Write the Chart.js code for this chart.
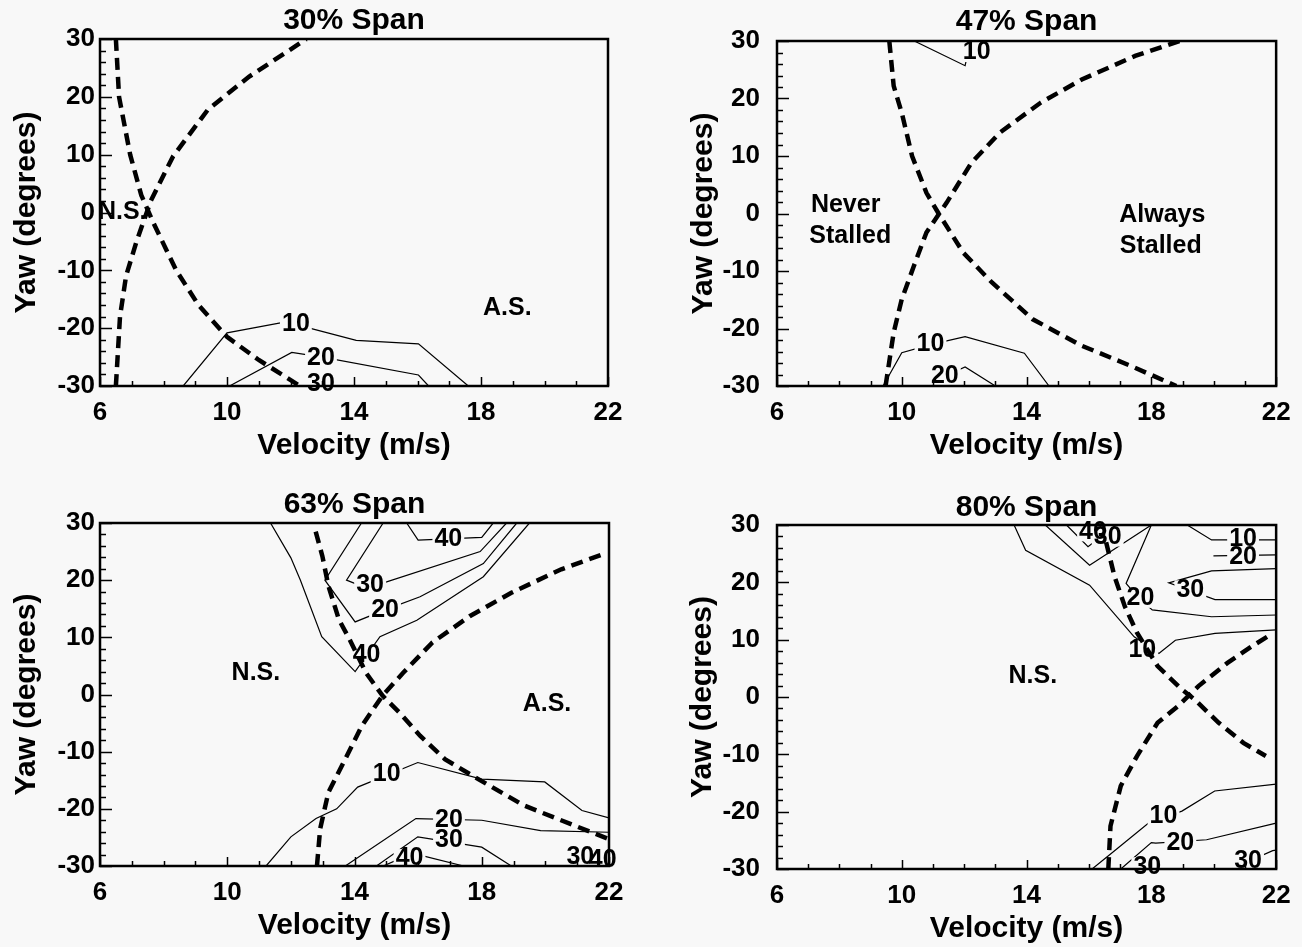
<!DOCTYPE html>
<html><head><meta charset="utf-8">
<script src="https://cdn.jsdelivr.net/npm/chart.js@4.4.1/dist/chart.umd.min.js"></script>
<style>
html,body{margin:0;padding:0;background:#f8f8f8;width:1302px;height:947px;overflow:hidden;}
canvas{position:absolute;}
</style></head><body>
<canvas id="c1" width="651" height="474" style="left:0px;top:0px"></canvas>
<canvas id="c2" width="651" height="474" style="left:651px;top:0px"></canvas>
<canvas id="c3" width="651" height="473" style="left:0px;top:474px"></canvas>
<canvas id="c4" width="651" height="473" style="left:651px;top:474px"></canvas>
<script>
// ---------- axes ----------
const velocityTicks = [6, 10, 14, 18, 22];
const yawTicks = [-30, -20, -10, 0, 10, 20, 30];
const panelTitles = ['30% Span', '47% Span', '63% Span', '80% Span'];

// ---------- 30% span ----------  [velocity, yaw]
const s30_stallDown = [[6.5,30],[6.6,20],[6.95,10],[7.3,3],[7.7,-2],[8.4,-10],[9.1,-16],[10,-21.5],[11,-25.5],[12.3,-30]];
const s30_stallUp = [[6.5,-30],[6.63,-18],[6.82,-11],[7.15,-5],[7.6,2],[8.3,9.7],[9.4,17.8],[10.7,23.5],[12.5,30]];
const s30_c10 = [[8.62,-30],[10.0,-20.8],[11.85,-18.9],[12.6,-20],[14.07,-22.1],[16.03,-22.7],[17.6,-30]];
const s30_c20 = [[10.08,-30],[12.04,-24.2],[13.0,-25.0],[16.03,-28.1],[16.35,-30]];
const s30_numLabels = [['10',12.17,-19.3],['20',12.96,-25.1],['30',12.96,-29.6]];
const s30_regionLabels = [['N.S.',6.7,0.1],['A.S.',18.83,-16.6]];

// ---------- 47% span ----------
const s47_stallDown = [[9.6,30],[9.74,22.2],[10,17.5],[10.33,10],[10.79,3.6],[11.18,0],[11.97,-6.8],[12.89,-12],[14.2,-18.4],[15.77,-23],[17.34,-26.5],[18.8,-30]];
const s47_stallUp = [[9.48,-30],[9.74,-20.7],[10,-14.9],[10.39,-9.1],[10.79,-3.3],[11.44,1.9],[12.23,8.8],[13.15,14.1],[14.46,19.3],[15.77,23.3],[17.48,27.4],[18.9,30]];
const s47_c10top = [[10.4,30],[12.03,25.7],[12.2,30]];
const s47_c10 = [[9.4,-30],[10.0,-24.2],[10.92,-22.8],[12.03,-21.4],[13.93,-24.3],[14.72,-30]];
const s47_c20 = [[11.2,-30],[11.5,-28],[12.03,-26.7],[13.0,-30]];
const s47_numLabels = [['10',12.4,28],['10',10.92,-22.8],['20',11.38,-28.3]];
const s47_regionLabels = [['Never',8.2,1.5],['Stalled',8.35,-3.9],['Always',18.35,-0.2],['Stalled',18.3,-5.6]];

// ---------- 63% span ----------
const s63_stallDown = [[12.78,28.5],[12.99,24.2],[13.18,19],[13.51,13.1],[13.84,9.7],[14.36,3.8],[14.88,-0.2],[15.4,-3.1],[16.06,-7.2],[16.84,-11.3],[17.89,-14.8],[19.32,-19.4],[20.9,-22.9],[22,-25.3]];
const s63_stallUp = [[12.82,-30],[12.92,-23.5],[13.18,-17.1],[13.71,-11.3],[14.23,-5.5],[14.88,-0.2],[15.53,3.8],[16.45,9.1],[17.62,13.7],[18.93,17.8],[20.5,21.9],[21.94,24.8]];
const s63_c10top = [[11.36,30],[12.0,23.9],[12.3,20],[12.97,10.1],[14.02,4.0],[14.8,10.1],[15.96,13.0],[18.05,20.6],[19.5,30]];
const s63_c20top = [[14.22,30],[13.07,20.0],[14.02,12.7],[14.96,14.8],[16.06,17.1],[18.05,22.9],[19.1,30]];
const s63_c30top = [[14.9,30],[13.75,20.0],[14.2,19.0],[15.01,19.7],[17.95,25.0],[18.78,30]];
const s63_c40top = [[15.64,30],[16.0,27.0],[18.0,27.5],[18.36,30]];
const s63_c10 = [[11.22,-30],[12.0,-24.9],[12.79,-21.7],[13.44,-20],[14.1,-16.2],[15.99,-11.9],[18.0,-14.8],[19.98,-15.3],[21.15,-20.3],[22,-21.6]];
const s63_c20 = [[13.71,-30],[15.93,-21.7],[18.0,-22],[19.85,-23.8],[22,-24.1]];
const s63_c30 = [[14.69,-30],[15.99,-24.9],[18.0,-26.7],[18.93,-30]];
const s63_c30b = [[21.4,-30],[22,-27]];
const s63_c40 = [[14.9,-30],[15.4,-28.8],[16.06,-28.1],[17.43,-30]];
const s63_numLabels = [['40',16.95,27.1],['30',14.49,19.2],['20',14.96,14.8],['40',14.38,6.9],['10',15.01,-13.9],['20',16.97,-22.0],['30',16.97,-25.5],['40',15.73,-28.7],['30',21.1,-28.5],['40',21.8,-29]];
const s63_regionLabels = [['N.S.',10.9,3.8],['A.S.',20.05,-1.7]];

// ---------- 80% span ----------
const s80_stallDown = [[16.55,27],[16.82,21],[17.15,15.8],[17.54,11.2],[18.2,5.4],[18.98,1.3],[19.38,-0.4],[20.16,-4.5],[20.95,-8],[21.67,-10.3]];
const s80_stallUp = [[16.62,-30],[16.69,-22.5],[17.02,-15.5],[17.54,-10.3],[18.2,-4.5],[18.85,-1.6],[19.51,1.9],[20.43,5.9],[21.21,8.8],[21.8,10.8]];
const s80_c10top = [[13.6,30],[13.97,25.6],[16.02,19.5],[17.45,10.5],[18.24,7.6],[18.77,9.9],[20.04,11.1],[22,11.7]];
const s80_c20v = [[14.6,30],[16.02,23.0],[18.0,30]];
const s80_c20top = [[18.0,30],[17.19,19.8],[17.6,17.2],[18.03,15.2],[19.93,14.0],[22,14.3]];
const s80_c30v = [[15.28,30],[15.97,26.2],[16.87,30]];
const s80_c10r = [[19.15,30],[19.93,27.4],[22,27.4]];
const s80_c20r = [[19.99,24.6],[22,24.8]];
const s80_c30r = [[22,22.4],[19.93,22.0],[18.56,19.9],[20.04,17.0],[22,17.0]];
const s80_c10 = [[16.1,-30],[16.89,-26.5],[17.93,-21.9],[18.98,-19.9],[20.03,-16.4],[22,-15.2]];
const s80_c20 = [[17.02,-30],[18.0,-25.4],[18.14,-25.5],[19.77,-24.9],[22,-22.0]];
const s80_c30 = [[20.56,-30],[21.89,-26.8],[22,-26.7]];
const s80_numLabels = [['40',16.13,28.8],['30',16.6,27.9],['10',20.94,27.5],['20',20.94,24.4],['30',19.25,18.7],['20',17.65,17.2],['10',17.71,8.1],['10',18.39,-20.7],['20',18.93,-25.4],['30',17.87,-29.6],['30',21.1,-28.7]];
const s80_regionLabels = [['N.S.',14.2,3.6]];

// ---------- rendering ----------
const FAM = '"Liberation Sans", Arial, sans-serif';
const BG = '#f8f8f8';
const TITLE_SIZE = 30, TITLE_LH = 1.1, TICK_SIZE = 26, NUM_SIZE = 25, REGION_SIZE = 25;

const pts = arr => arr.map(([x, y]) => ({x, y}));
const contourDs = arr => ({data: pts(arr), showLine: true, borderColor: '#000', borderWidth: 1.2, pointRadius: 0, order: 2, tension: 0});
const boundaryDs = arr => ({data: pts(arr), showLine: true, borderColor: '#000', borderWidth: 4.5, borderDash: [12, 7], pointRadius: 0, order: 1, tension: 0, isBoundary: true});

const annotPlugin = {
  id: 'annot',
  beforeDatasetsDraw(chart) { chart.$bgDone = false; },
  beforeDatasetDraw(chart, args) {
    const ds = chart.data.datasets[args.index];
    if (!ds.isBoundary || chart.$bgDone) return;
    chart.$bgDone = true;
    const {ctx, scales: {x, y}} = chart;
    const labels = chart.options.plugins.annot.numLabels;
    ctx.save();
    ctx.font = 'bold ' + NUM_SIZE + 'px ' + FAM;
    ctx.fillStyle = BG;
    labels.forEach(([txt, v, w]) => {
      const px = x.getPixelForValue(v), py = y.getPixelForValue(w);
      const tw = ctx.measureText(txt).width;
      ctx.fillRect(px - tw / 2 - 2, py - NUM_SIZE * 0.38, tw + 4, NUM_SIZE * 0.76);
    });
    ctx.restore();
  },
  afterDatasetsDraw(chart) {
    const {ctx, scales: {x, y}} = chart;
    const o = chart.options.plugins.annot;
    ctx.save();
    ctx.fillStyle = '#000';
    ctx.textAlign = 'center';
    ctx.textBaseline = 'middle';
    ctx.font = 'bold ' + NUM_SIZE + 'px ' + FAM;
    o.numLabels.forEach(([txt, v, w]) => ctx.fillText(txt, x.getPixelForValue(v), y.getPixelForValue(w)));
    ctx.font = 'bold ' + REGION_SIZE + 'px ' + FAM;
    o.regionLabels.forEach(([txt, v, w]) => ctx.fillText(txt, x.getPixelForValue(v), y.getPixelForValue(w)));
    ctx.restore();
  },
  afterDraw(chart) {
    const {ctx, chartArea: {left, right, top, bottom}, scales: {x, y}} = chart;
    ctx.save();
    ctx.strokeStyle = '#000';
    ctx.lineWidth = 1.5;
    ctx.beginPath();
    for (let w = y.min; w <= y.max; w += 2) {
      const py = Math.round(y.getPixelForValue(w)) + 0.5;
      const len = yawTicks.includes(w) ? 12 : 6;
      ctx.moveTo(left, py); ctx.lineTo(left + len, py);
    }
    for (let v = x.min; v <= x.max; v += 1) {
      const px = Math.round(x.getPixelForValue(v)) + 0.5;
      const len = velocityTicks.includes(v) ? 9 : 5;
      ctx.moveTo(px, bottom); ctx.lineTo(px, bottom - len);
    }
    ctx.stroke();
    ctx.lineWidth = 2.5;
    ctx.strokeRect(left, top, right - left, bottom - top);
    ctx.restore();
  }
};

function makeChart(spec) {
  const {id, cx, cy, w, h, L, T, R, B, title, titleCY, yTitleCX, yTickRight, contours, boundaries, numLabels, regionLabels} = spec;
  const l = L - cx, t = T - cy, r = R - cx, b = B - cy;
  const XH = 78;
  const TLH = TITLE_SIZE * TITLE_LH;
  const tPadTop = titleCY - cy - TLH / 2;
  const tPadBottom = Math.max(0, t - tPadTop - TLH);
  const tickLH = TICK_SIZE * 1.2;
  const titleFont = {family: FAM, size: TITLE_SIZE, weight: 'bold', lineHeight: TITLE_LH};
  const tickFont = {family: FAM, size: TICK_SIZE, weight: 'bold', lineHeight: 1.2};
  const datasets = contours.map(contourDs).concat(boundaries.map(boundaryDs));
  new Chart(document.getElementById(id), {
    type: 'scatter',
    data: {datasets},
    plugins: [annotPlugin],
    options: {
      responsive: false,
      animation: false,
      events: [],
      layout: {padding: {left: 0, top: 0, right: w - r, bottom: Math.max(0, h - (b + XH))}},
      plugins: {
        legend: {display: false},
        tooltip: {enabled: false},
        title: {display: true, text: title, color: '#000', font: titleFont, fullSize: false, padding: {top: tPadTop, bottom: tPadBottom}},
        annot: {numLabels, regionLabels}
      },
      scales: {
        x: {
          type: 'linear', min: 6, max: 22,
          afterBuildTicks: s => { s.ticks = velocityTicks.map(v => ({value: v})); },
          afterFit: s => { s.height = XH; },
          ticks: {font: tickFont, color: '#000', padding: 27 - tickLH / 2, maxRotation: 0, autoSkip: false},
          grid: {display: false, drawTicks: false},
          border: {display: false},
          title: {display: true, text: 'Velocity (m/s)', color: '#000', font: titleFont, padding: {top: 0, bottom: XH - 60 - TLH / 2}}
        },
        y: {
          type: 'linear', min: -30, max: 30,
          afterBuildTicks: s => { s.ticks = yawTicks.map(v => ({value: v})); },
          afterFit: s => { s.width = l; },
          ticks: {font: tickFont, color: '#000', padding: l - (yTickRight - cx), autoSkip: false},
          grid: {display: false, drawTicks: false},
          border: {display: false},
          title: {display: true, text: 'Yaw (degrees)', color: '#000', font: titleFont, padding: {top: (yTitleCX - cx) - TLH / 2, bottom: 0}}
        }
      }
    }
  });
}

makeChart({id: 'c1', cx: 0, cy: 0, w: 651, h: 474, L: 100, T: 39, R: 608, B: 386, title: panelTitles[0], titleCY: 21, yTitleCX: 27, yTickRight: 95,
  contours: [s30_c10, s30_c20], boundaries: [s30_stallDown, s30_stallUp], numLabels: s30_numLabels, regionLabels: s30_regionLabels});
makeChart({id: 'c2', cx: 651, cy: 0, w: 651, h: 474, L: 777, T: 41, R: 1283, B: 386, title: panelTitles[1], titleCY: 22, yTitleCX: 704, yTickRight: 760,
  contours: [s47_c10top, s47_c10, s47_c20], boundaries: [s47_stallDown, s47_stallUp], numLabels: s47_numLabels, regionLabels: s47_regionLabels});
makeChart({id: 'c3', cx: 0, cy: 474, w: 651, h: 473, L: 100, T: 523, R: 609, B: 866, title: panelTitles[2], titleCY: 505, yTitleCX: 27, yTickRight: 95,
  contours: [s63_c10top, s63_c20top, s63_c30top, s63_c40top, s63_c10, s63_c20, s63_c30, s63_c30b, s63_c40], boundaries: [s63_stallDown, s63_stallUp], numLabels: s63_numLabels, regionLabels: s63_regionLabels});
makeChart({id: 'c4', cx: 651, cy: 474, w: 651, h: 473, L: 777, T: 525, R: 1282, B: 869, title: panelTitles[3], titleCY: 508, yTitleCX: 703, yTickRight: 760,
  contours: [s80_c10top, s80_c20v, s80_c20top, s80_c30v, s80_c10r, s80_c20r, s80_c30r, s80_c10, s80_c20, s80_c30], boundaries: [s80_stallDown, s80_stallUp], numLabels: s80_numLabels, regionLabels: s80_regionLabels});
</script>
</body></html>
